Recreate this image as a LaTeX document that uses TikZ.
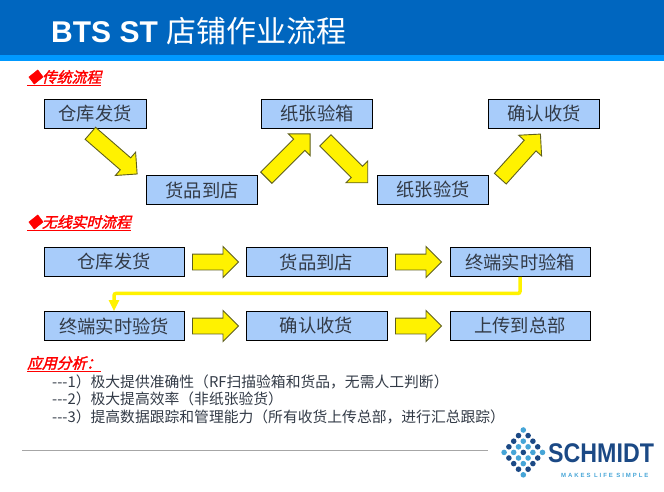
\documentclass[tikz,border=0pt]{standalone}
\usepackage{fontspec}
\setmainfont{Liberation Sans}
\newfontfamily\cjkfont{Noto Sans CJK SC}
\newfontfamily\cjkhead[FakeSlant=0.25,FakeBold=2]{Noto Sans CJK SC}
\usetikzlibrary{shapes.arrows,arrows.meta}

\tikzset{
    stepbox/.style={shape=rectangle,draw=black,line width=0.9pt,fill=stepblue,text=textgray,font=\cjkfont\fontsize{18.3}{18.3}\selectfont,inner sep=0pt},
    blockarrow/.style={shape=single arrow,draw=arrowedge,line width=0.9pt,fill=yellow,inner xsep=0pt,inner ysep=7.5pt,single arrow head extend=7.5pt,single arrow tip angle=90,minimum height=46pt,anchor=tail},
    headline/.style={anchor=west,text=red,inner sep=0pt,font=\cjkhead\fontsize{14.8}{14.8}\selectfont},
    bodyline/.style={anchor=west,text=textgray,inner sep=0pt,font=\cjkfont\fontsize{14.8}{14.8}\selectfont},
}

\begin{document}
\begin{tikzpicture}[x=1pt,y=-1pt]
    \definecolor{stepblue}{RGB}{168,204,250}
    \definecolor{textgray}{RGB}{50,58,70}
    \definecolor{arrowedge}{RGB}{95,95,30}
    \definecolor{topblue}{RGB}{0,102,191}
    \definecolor{stripblue}{RGB}{0,153,255}
    \definecolor{logodark}{RGB}{27,73,133}
    \definecolor{logolight}{RGB}{70,165,215}
    \useasboundingbox (0,0) rectangle (664,491);
    \fill[topblue] (0,0) rectangle (664,55);
    \fill[stripblue] (0,55) rectangle (664,61);
    \node[anchor=west,text=white,inner sep=0pt,font=\fontsize{30}{30}\selectfont] (title) at (51,31) {\textbf{BTS ST} {\cjkfont 店铺作业流程}};
    % traditional flow
    \node[headline] (headA) at (27,78) {\underline{◆传统流程}};
    \node[stepbox,minimum width=102pt,minimum height=29pt] (shipA) at (95,114) {仓库发货};
    \node[stepbox,minimum width=111pt,minimum height=29pt] (arriveA) at (202,190) {货品到店};
    \node[stepbox,minimum width=111pt,minimum height=29pt] (boxA) at (317,114) {纸张验箱};
    \node[stepbox,minimum width=111pt,minimum height=29pt] (goodsA) at (433,190) {纸张验货};
    \node[stepbox,minimum width=111pt,minimum height=29pt] (doneA) at (544,114) {确认收货};
    \node[blockarrow,minimum height=62pt,rotate=-41] (arrA) at (90,133) {};
    \node[blockarrow,minimum height=62pt,rotate=45] (arrB) at (266,178) {};
    \node[blockarrow,minimum height=60pt,rotate=-45] (arrC) at (325,140) {};
    \node[blockarrow,minimum height=60pt,rotate=48] (arrD) at (500,179) {};
    % wireless flow
    \node[headline] (headB) at (27,223) {\underline{◆无线实时流程}};
    \node[stepbox,minimum width=140pt,minimum height=29pt] (shipB) at (114,262) {仓库发货};
    \node[stepbox,minimum width=141pt,minimum height=29pt] (arriveB) at (316.5,262) {货品到店};
    \node[stepbox,minimum width=140pt,minimum height=29pt] (boxB) at (520,262) {终端实时验箱};
    \node[stepbox,minimum width=140pt,minimum height=29pt] (goodsB) at (114,326) {终端实时验货};
    \node[stepbox,minimum width=141pt,minimum height=29pt] (doneB) at (316.5,326) {确认收货};
    \node[stepbox,minimum width=140pt,minimum height=29pt] (sendB) at (520,326) {上传到总部};
    \node[blockarrow] (arrE) at (192,262) {};
    \node[blockarrow] (arrF) at (395,262) {};
    \node[blockarrow] (arrG) at (192,326) {};
    \node[blockarrow] (arrH) at (395,326) {};
    \draw[yellow,line width=3.5pt,-{Triangle[length=11pt,width=10pt]},rounded corners=2pt] (boxB.south) -- ++(0,16.5) -| (goodsB.north);
    % analysis
    \node[headline] (headC) at (27,364) {\underline{应用分析：}};
    \node[bodyline] (lineA) at (52,382) {---1）{\cjkfont 极大提供准确性（RF扫描验箱和货品，无需人工判断）}};
    \node[bodyline] (lineB) at (52,399) {---2）{\cjkfont 极大提高效率（非纸张验货）}};
    \node[bodyline] (lineC) at (52,417) {---3）{\cjkfont 提高数据跟踪和管理能力（所有收货上传总部，进行汇总跟踪）}};
    \draw[gray!70,line width=1pt] (22,450) -- (488,450);
    % logo
    \foreach \i in {0,...,4} {
        \foreach \j in {0,...,4} {
            \pgfmathsetmacro{\dotx}{523.3+(\i-\j)*4.8}
            \pgfmathsetmacro{\doty}{430+(\i+\j)*5.6}
            \pgfmathtruncatemacro{\ring}{max(abs(\i-2),abs(\j-2))}
            \pgfmathtruncatemacro{\corner}{abs(\i-2)+abs(\j-2)}
            \ifnum\ring=1 \fill[logolight] (\dotx,\doty) circle (2.8);
            \else\ifnum\corner=4 \fill[logolight] (\dotx,\doty) circle (2.8);
            \else \fill[logodark] (\dotx,\doty) circle (2.8); \fi\fi
        }
    }
    \node[anchor=west,text=logodark,inner sep=0pt,font=\bfseries\fontsize{27}{27}\selectfont] (logoname) at (548,453) {\scalebox{0.86}[1]{SCHMIDT}};
    \node[anchor=west,text=logolight,inner sep=0pt,font=\bfseries\fontsize{6}{6}\selectfont] (logotag) at (561,475) {\addfontfeature{LetterSpace=32}MAKES LIFE SIMPLE};
\end{tikzpicture}
\end{document}
